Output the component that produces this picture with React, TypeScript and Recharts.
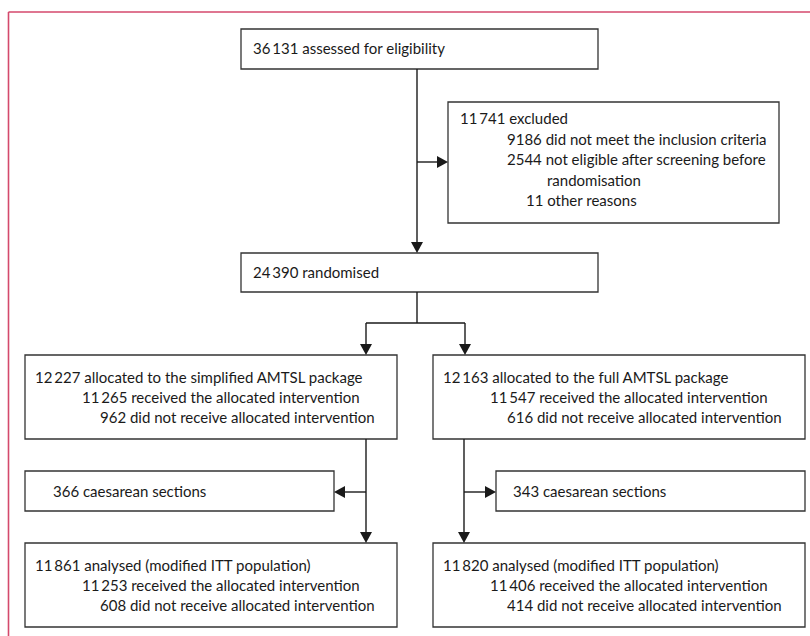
import { ScatterChart, Scatter, XAxis, YAxis, ReferenceArea, ReferenceLine } from 'recharts';

// trial profile counts, one list per box
const assessedLines: [number | null, string][] = [[36131, 'assessed for eligibility']];
const excludedLines: [number | null, string][] = [
  [11741, 'excluded'],
  [9186, 'did not meet the inclusion criteria'],
  [2544, 'not eligible after screening before'],
  [null, 'randomisation'],
  [11, 'other reasons'],
];
const randomisedLines: [number | null, string][] = [[24390, 'randomised']];
const simplifiedLines: [number | null, string][] = [
  [12227, 'allocated to the simplified AMTSL package'],
  [11265, 'received the allocated intervention'],
  [962, 'did not receive allocated intervention'],
];
const fullLines: [number | null, string][] = [
  [12163, 'allocated to the full AMTSL package'],
  [11547, 'received the allocated intervention'],
  [616, 'did not receive allocated intervention'],
];
const caesLeftLines: [number | null, string][] = [[366, 'caesarean sections']];
const caesRightLines: [number | null, string][] = [[343, 'caesarean sections']];
const analysedLeftLines: [number | null, string][] = [
  [11861, 'analysed (modified ITT population)'],
  [11253, 'received the allocated intervention'],
  [608, 'did not receive allocated intervention'],
];
const analysedRightLines: [number | null, string][] = [
  [11820, 'analysed (modified ITT population)'],
  [11406, 'received the allocated intervention'],
  [414, 'did not receive allocated intervention'],
];

const W = 810;
const H = 636;
const FONT = 'Lato, "Open Sans", sans-serif';
const INK = '#1a1a1a';
const FRAME = '#d4496c';

const fmt = (n: number | null) => {
  if (n === null) return '';
  const s = String(n);
  return s.length >= 5 ? s.replace(/\B(?=(\d{3})+(?!\d))/g, '\u2009') + ' ' : s + ' ';
};

// diagram layout (in diagram units = pixels of the picture)
type Box = { x1: number; x2: number; y1: number; y2: number; lines: [number | null, string][]; indent: number[]; first: number; step: number };
const boxes: Box[] = [
  { x1: 241, x2: 598, y1: 29, y2: 69, lines: assessedLines, indent: [12], first: 19, step: 20 },
  { x1: 448, x2: 779, y1: 102, y2: 223, lines: excludedLines, indent: [12, 59, 59, 99, 78], first: 16, step: 20.5 },
  { x1: 241, x2: 598, y1: 253, y2: 292, lines: randomisedLines, indent: [12], first: 19, step: 20 },
  { x1: 25, x2: 397, y1: 355, y2: 439, lines: simplifiedLines, indent: [10, 57, 75], first: 22, step: 20 },
  { x1: 433, x2: 805, y1: 355, y2: 439, lines: fullLines, indent: [10, 57, 74], first: 22, step: 20 },
  { x1: 25, x2: 334, y1: 471, y2: 511, lines: caesLeftLines, indent: [28], first: 20, step: 20 },
  { x1: 496, x2: 805, y1: 471, y2: 511, lines: caesRightLines, indent: [17], first: 20, step: 20 },
  { x1: 25, x2: 397, y1: 543, y2: 627, lines: analysedLeftLines, indent: [10, 57, 75], first: 22, step: 20 },
  { x1: 433, x2: 805, y1: 543, y2: 627, lines: analysedRightLines, indent: [10, 57, 74], first: 22, step: 20 },
];

const connectors: [number, number, number, number][] = [
  [417, 69, 417, 250],
  [417, 162, 446, 162],
  [417, 292, 417, 323],
  [366, 323, 465, 323],
  [366, 323, 366, 352],
  [465, 323, 465, 352],
  [366, 439, 366, 540],
  [366, 492, 337, 492],
  [464, 439, 464, 540],
  [464, 492, 493, 492],
];

const arrowTips = [
  { x: 417, y: 253, dir: 'down' },
  { x: 448, y: 162, dir: 'right' },
  { x: 366, y: 355, dir: 'down' },
  { x: 465, y: 355, dir: 'down' },
  { x: 334, y: 492, dir: 'left' },
  { x: 496, y: 492, dir: 'right' },
  { x: 366, y: 543, dir: 'down' },
  { x: 464, y: 543, dir: 'down' },
];

const textRows = boxes.flatMap((b) =>
  b.lines.map(([n, t], i) => ({
    x: b.x1 + b.indent[i],
    y: b.y1 + b.first + i * b.step,
    label: fmt(n) + t,
  }))
);

const Arrow = (props: any) => {
  const { cx, cy, payload } = props;
  const L = 11;
  const h = 6;
  let pts = '';
  if (payload.dir === 'down') pts = `${cx},${cy} ${cx - h},${cy - L} ${cx + h},${cy - L}`;
  if (payload.dir === 'right') pts = `${cx},${cy} ${cx - L},${cy - h} ${cx - L},${cy + h}`;
  if (payload.dir === 'left') pts = `${cx},${cy} ${cx + L},${cy - h} ${cx + L},${cy + h}`;
  return <polygon points={pts} fill={INK} />;
};

const Label = (props: any) => {
  const { cx, cy, payload } = props;
  return (
    <text x={cx} y={cy} dominantBaseline="central" fontFamily={FONT} fontSize={15} fill={INK}>
      {payload.label}
    </text>
  );
};

export default function App() {
  return (
    <div style={{ width: W, height: H, background: '#fff' }}>
      <style>{'body{margin:0}'}</style>
      <ScatterChart width={W} height={H} margin={{ top: 0, right: 0, bottom: 0, left: 0 }}>
        <XAxis type="number" dataKey="x" domain={[0, W]} hide allowDataOverflow />
        <YAxis type="number" dataKey="y" domain={[0, H]} reversed hide allowDataOverflow />
        <ReferenceLine segment={[{ x: 8.5, y: 12 }, { x: W, y: 12 }]} stroke={FRAME} strokeWidth={1.6} ifOverflow="visible" />
        <ReferenceLine segment={[{ x: 8.5, y: 12 }, { x: 8.5, y: H }]} stroke={FRAME} strokeWidth={1.6} ifOverflow="visible" />
        {connectors.map(([x1, y1, x2, y2], i) => (
          <ReferenceLine key={'c' + i} segment={[{ x: x1, y: y1 }, { x: x2, y: y2 }]} stroke={INK} strokeWidth={1.4} ifOverflow="visible" />
        ))}
        {boxes.map((b, i) => (
          <ReferenceArea key={'b' + i} x1={b.x1} x2={b.x2} y1={b.y1} y2={b.y2} fill="#fff" fillOpacity={1} stroke="#333" strokeWidth={1.3} ifOverflow="visible" />
        ))}
        <Scatter data={arrowTips} shape={Arrow} isAnimationActive={false} />
        <Scatter data={textRows} shape={Label} isAnimationActive={false} />
      </ScatterChart>
    </div>
  );
}
